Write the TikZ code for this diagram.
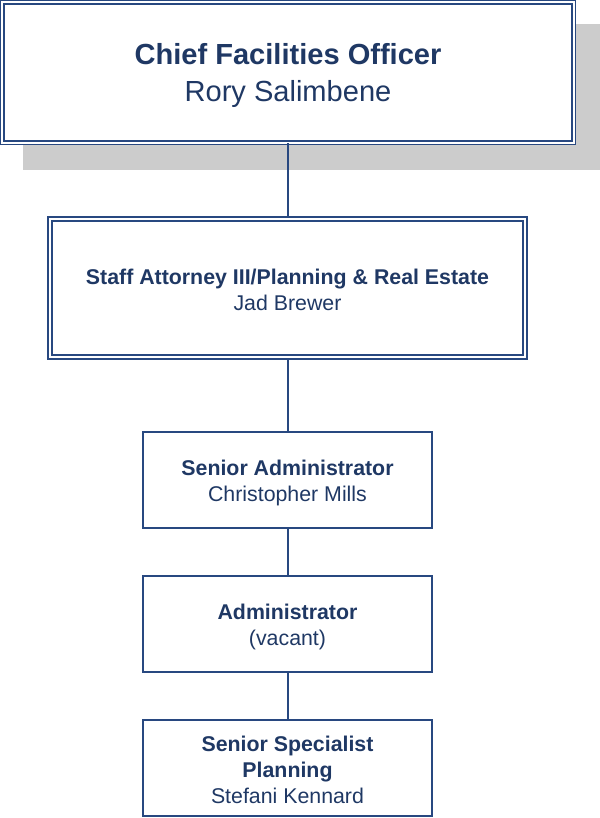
\documentclass[tikz,border=0pt]{standalone}
\usepackage{fontspec}
\setmainfont{Liberation Sans}
\definecolor{navytext}{RGB}{31,56,100}
\definecolor{navyline}{RGB}{40,72,128}
\definecolor{shadowgray}{RGB}{204,204,204}
\begin{document}
\begin{tikzpicture}[x=0.75pt,y=-0.75pt,
  dblbox/.style={draw=navyline,double=white,inner sep=0pt},
  plainbox/.style={draw=navyline,line width=1.5pt,inner sep=0pt,
    minimum width=289*0.75pt,minimum height=96*0.75pt},
  boxtext/.style={align=center,text=navytext,inner sep=0pt,
    font=\fontsize{16pt}{19.5pt}\selectfont},
  conn/.style={draw=navyline,line width=1.2pt}]
\useasboundingbox (0,0) rectangle (600,818);
\node[fill=shadowgray,inner sep=0pt,minimum width=577*0.75pt,minimum height=146*0.75pt] (shadow) at (311.5,97) {};
\node[dblbox,fill=white,line width=1pt,double distance=1.5pt,
  minimum width=571.3*0.75pt,minimum height=140.3*0.75pt] (cfo) at (288,72.5) {};
\node[boxtext,font=\fontsize{21.8pt}{27.5pt}\selectfont] (cfotext) at (288,75.5)
  {\textbf{Chief Facilities Officer}\\Rory Salimbene};
\node[dblbox,line width=1.3pt,double distance=1.6pt,
  minimum width=475.4*0.75pt,minimum height=138.4*0.75pt] (staff) at (287.5,288) {};
\node[boxtext] (stafftext) at (287.5,290)
  {\textbf{Staff Attorney III/Planning \& Real Estate}\\Jad Brewer};
\node[plainbox] (sa) at (287.5,480) {};
\node[boxtext] (satext) at (287.5,482.5) {\textbf{Senior Administrator}\\Christopher Mills};
\node[plainbox] (adm) at (287.5,624) {};
\node[boxtext] (admtext) at (287.5,626.5) {\textbf{Administrator}\\(vacant)};
\node[plainbox] (ssp) at (287.5,768) {};
\node[boxtext] (ssptext) at (287.5,770) {\textbf{Senior Specialist}\\\textbf{Planning}\\Stefani Kennard};
\draw[conn] (cfo.south) -- (cfo.south |- staff.north);
\draw[conn] ([xshift=0.5*0.75pt]staff.south) -- ([xshift=0.5*0.75pt]staff.south |- sa.north);
\draw[conn] ([xshift=0.5*0.75pt]sa.south) -- ([xshift=0.5*0.75pt]adm.north);
\draw[conn] ([xshift=0.5*0.75pt]adm.south) -- ([xshift=0.5*0.75pt]ssp.north);
\end{tikzpicture}
\end{document}
